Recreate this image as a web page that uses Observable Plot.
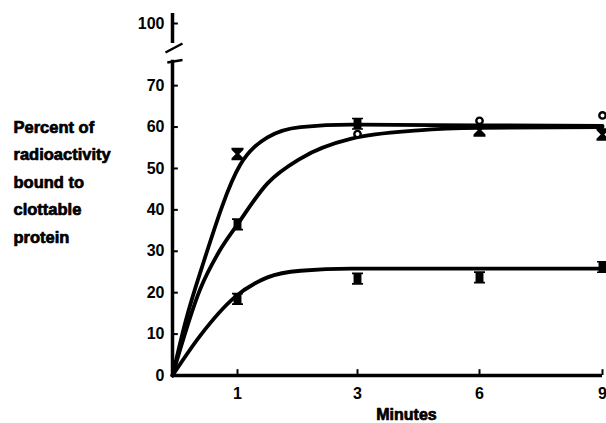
<!DOCTYPE html>
<html><head><meta charset="utf-8">
<script src="https://cdn.jsdelivr.net/npm/d3@7"></script>
<script src="https://cdn.jsdelivr.net/npm/@observablehq/plot@0.6"></script>
<style>body{margin:0;background:#fff;overflow:hidden}</style>
</head><body><div id="chart"></div>
<script>
// ---- data ----
const minutes = [1, 3, 6, 9];
const hourglassValues = [53.5, null, 59.2, 58.2];
const squareValues = [36.5, 60.8, null, null];
const openCircleValues = [null, 58.3, 61.5, 62.8];
const lowerValues = [18.5, 23.4, 23.7, 26.2];

// fitted curves
const curveAx = [0, 0.2, 0.45, 1.05, 1.5, 2.05, 2.9, 6, 9];
const curveAy = [0, 13, 26, 51, 57.5, 60, 60.6, 60.4, 60.3];
const curveBx = [0, 0.43, 0.72, 1, 1.5, 2.05, 2.9, 4.5, 6, 9];
const curveBy = [0, 21, 30, 36.5, 46.4, 52.4, 57.2, 59.2, 59.8, 60];
const curveCx = [0, 0.43, 0.95, 1.5, 2.05, 2.9, 6, 9];
const curveCy = [0, 9.7, 18.8, 23.7, 25.3, 25.8, 25.8, 25.8];

const xTicks = [1, 3, 6, 9];
const yTicks = [0, 10, 20, 30, 40, 50, 60, 70, 100];
const yLabel = "Percent of\nradioactivity\nbound to\nclottable\nprotein";
const xLabel = "Minutes";
// axis break decoration (value space)
const lowerAxis = [0, 76.5];
const upperAxis = [95, 102.5];
const breakSlashes = [
  {x1: -0.08, y1: 75.6, x2: 0.154, y2: 76.8},
  {x1: -0.108, y1: 85.1, x2: 0.154, y2: 95}
];

// ---- tables ----
const pts = (vals) => minutes.map((m, i) => ({m, v: vals[i]})).filter(d => d.v != null);
const crv = (xs, ys) => xs.map((m, i) => ({m, v: ys[i]}));

// ---- custom symbols ----
const hourglass = {draw(ctx, size) {
  const r = Math.sqrt(size / Math.PI);
  const w = r, h = 1.05 * r, t = 0.35 * r, n = 0.3 * r;
  ctx.moveTo(-w, -h); ctx.lineTo(w, -h); ctx.lineTo(w, -h + t); ctx.lineTo(n, 0);
  ctx.lineTo(w, h - t); ctx.lineTo(w, h); ctx.lineTo(-w, h); ctx.lineTo(-w, h - t);
  ctx.lineTo(-n, 0); ctx.lineTo(-w, -h + t); ctx.closePath();
}};
const barrel = {draw(ctx, size) {
  const r = Math.sqrt(size / Math.PI);
  const w = r, h = 1.1 * r, t = 0.3 * r, n = 0.72 * r;
  ctx.moveTo(-w, -h); ctx.lineTo(w, -h); ctx.lineTo(w, -h + t); ctx.lineTo(n, -h + t);
  ctx.lineTo(n, h - t); ctx.lineTo(w, h - t); ctx.lineTo(w, h); ctx.lineTo(-w, h);
  ctx.lineTo(-w, h - t); ctx.lineTo(-n, h - t); ctx.lineTo(-n, -h + t); ctx.lineTo(-w, -h + t);
  ctx.closePath();
}};

const font = "Liberation Sans, Arial, sans-serif";
const heavy = {fontWeight: "bold", stroke: "#000", strokeWidth: 0.7, fill: "#000"};
const chart = Plot.plot({
  width: 606,
  height: 423,
  marginLeft: 172,
  marginRight: 4,
  marginTop: 13,
  marginBottom: 48,
  style: {fontFamily: font, fontWeight: "bold", fontSize: "16px", background: "#fff", color: "#000", overflow: "visible"},
  x: {type: "linear", domain: [0, 1, 3, 6, 9], range: [172, 237, 357, 479, 602], axis: null},
  y: {type: "linear", domain: [0, 76, 95, 103], range: [375, 60.3, 43, 11], axis: null},
  marks: [
    // axes
    Plot.ruleY([0], {x1: 0, x2: 9, strokeWidth: 3.5}),
    Plot.ruleX([0], {y1: lowerAxis[0], y2: lowerAxis[1], strokeWidth: 3.5}),
    Plot.ruleX([0], {y1: upperAxis[0], y2: upperAxis[1], strokeWidth: 3.5}),
    Plot.link(breakSlashes, {x1: "x1", y1: "y1", x2: "x2", y2: "y2", strokeWidth: 2.5}),
    Plot.ruleY(yTicks.filter(d => d > 0), {y: d => d, x1: 0, x2: 0.09, strokeWidth: 2}),
    Plot.ruleX(xTicks, {x: d => d, y1: 0, y2: 1.4, strokeWidth: 2}),
    Plot.axisY({ticks: yTicks, tickSize: 0, tickPadding: 8, fontSize: 16, label: null, ...heavy}),
    Plot.axisX({ticks: xTicks, tickSize: 0, tickPadding: 12, fontSize: 16, label: null, ...heavy}),
    Plot.text([yLabel], {text: d => d, frameAnchor: "left", dx: -159, dy: -15.5, textAnchor: "start", lineAnchor: "middle", lineHeight: 1.66, fontSize: 16.5, ...heavy}),
    Plot.text([xLabel], {text: d => d, frameAnchor: "bottom", dx: 19, dy: 44, lineAnchor: "bottom", fontSize: 16, ...heavy}),
    // curves
    Plot.line(crv(curveAx, curveAy), {x: "m", y: "v", curve: "monotone-x", strokeWidth: 3.8}),
    Plot.line(crv(curveBx, curveBy), {x: "m", y: "v", curve: "monotone-x", strokeWidth: 3.8}),
    Plot.line(crv(curveCx, curveCy), {x: "m", y: "v", curve: "monotone-x", strokeWidth: 3.8}),
    // points
    Plot.dot(pts(hourglassValues), {x: "m", y: "v", symbol: hourglass, r: 6, fill: "#000"}),
    Plot.dot(pts(squareValues), {x: "m", y: "v", symbol: barrel, r: 5.5, fill: "#000"}),
    Plot.dot(pts(lowerValues), {x: "m", y: "v", symbol: barrel, r: 5.5, fill: "#000"}),
    Plot.dot(pts(openCircleValues), {x: "m", y: "v", r: 3.2, fill: "#fff", stroke: "#000", strokeWidth: 2.4})
  ]
});
document.getElementById("chart").appendChild(chart);
</script>
</body></html>
